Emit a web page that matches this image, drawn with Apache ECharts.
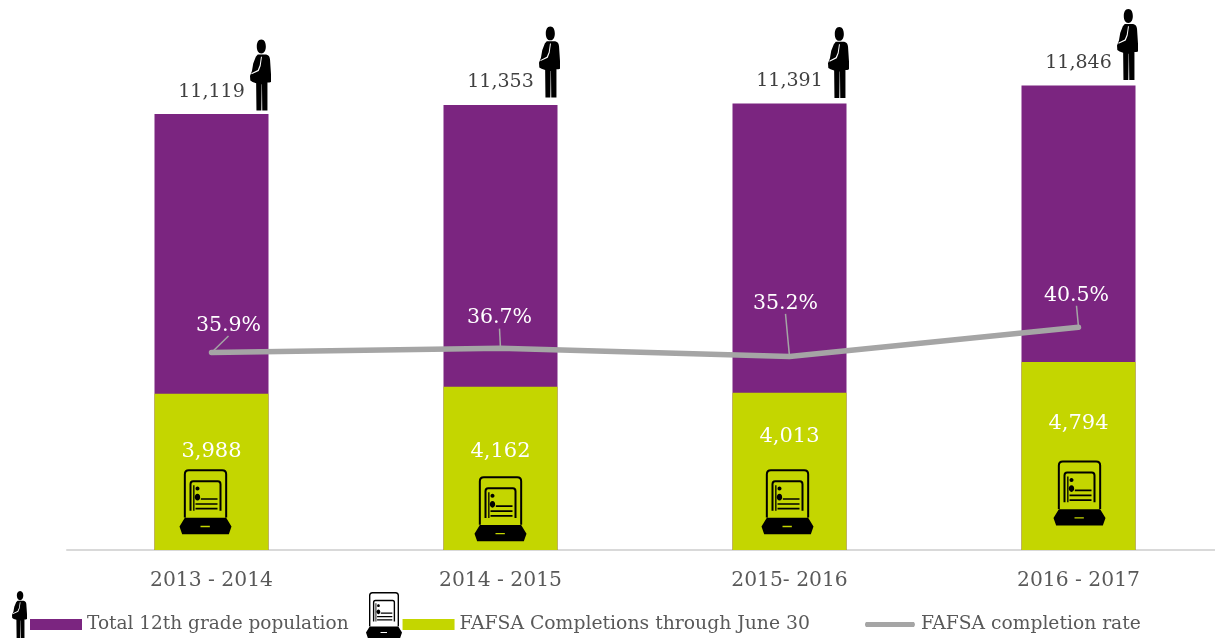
<!DOCTYPE html>
<html><head><meta charset="utf-8">
<style>html,body{margin:0;padding:0;background:#fff}#c{width:1215px;height:639px}</style>
<script src="https://cdn.jsdelivr.net/npm/echarts@6/dist/echarts.min.js"></script>
</head><body><div id="c"></div>
<script>
const categories = ['2013 - 2014','2014 - 2015','2015- 2016','2016 - 2017'];
const totalPopulation = [11119,11353,11391,11846];
const completions = [3988,4162,4013,4794];
const completionRate = [35.9,36.7,35.2,40.5];

const FONT = '"DejaVu Serif"';
const PERSON = 'M35 0C45 0 49 10 49 21C49 33 44 42 35 42C26 42 21 33 21 21C21 10 25 0 35 0Z M24 45L50 45C59 47 61 52 62 60L65 105L65 128L60 130L54 130L54 215L38 215L37 135L36 135L35 215L20 215L19 132L8 128L1 124L0 110L6 95L10 72L18 52Z M37 52L34 52L30 78L24 92L4 102L5 105L27 95L33 80Z';
const TABLET = 'M13 145L13 15Q13 0 28 0L128 0Q143 0 143 15L143 145L137 145L137 15Q137 6 128 6L28 6Q19 6 19 15L19 145Z M30 125L30 45Q30 33 41 33L115 33Q126 33 126 45L126 125L120 125L120 45Q120 39 115 39L41 39Q36 39 36 45L36 125Z M41 48L45 48L45 125L41 125Z M54 52C58 52 60 55 60 58C60 61 58 64 54 64C50 64 48 61 48 58C48 55 50 52 54 52Z M54 74C59 74 62 79 62 84C62 89 59 94 54 94C49 94 46 89 46 84C46 79 49 74 54 74Z M64 87L114 87L114 92L64 92Z M48 102L114 102L114 107L48 107Z M48 116L114 116L114 121L48 121Z M16 146L140 146L156 172L148 195L8 195L0 172Z M63 170L63 174L91 174L91 170Z';
const LINE_ICON = 'path://M0 0L0 0Z M2 3L50 3Q52 5.5 50 8L2 8Q0 5.5 2 3Z M52 11L52 11Z';

const personOffset = [[49,-39],[49,-43],[49,-41],[49,-41]];
const tabletOffset = [[-6,108],[0,122],[-2,109],[1,131]];
const greenLabelOffset = [[0,42],[0,49],[0,28],[0,46]];
const rateLabelLayout = [[17,-27],[-1,-30],[-4,-53],[-2,-32]];

echarts.graphic.registerShape('person', echarts.graphic.extendPath(PERSON, {}));
echarts.graphic.registerShape('tablet', echarts.graphic.extendPath(TABLET, {}));

const chart = echarts.init(document.getElementById('c'), null, {renderer:'canvas'});
const legendText = {color:'#595959',fontFamily:FONT};
chart.setOption({
  animation:false,
  textStyle:{fontFamily:FONT},
  grid:{left:67,top:0,width:1156,height:550,containLabel:false,outerBoundsMode:'none'},
  xAxis:{type:'category',data:categories,axisTick:{show:false},
    axisLine:{lineStyle:{color:'#D9D9D9',width:2}},
    axisLabel:{color:'#595959',fontSize:20.3,fontFamily:FONT,margin:21}},
  yAxis:[
    {type:'value',min:0,max:14030,show:false},
    {type:'value',min:0,max:100,show:false}
  ],
  legend:{left:30,top:615,itemGap:54,itemWidth:52,itemHeight:11,itemStyle:{borderWidth:0},padding:0,
    textStyle:{color:'#595959',fontSize:18.5,fontFamily:FONT},
    data:[{name:'Total 12th grade population',icon:'rect'},
      {name:'FAFSA Completions through June 30',icon:'rect',textStyle:{...legendText,fontSize:18.8}},
      {name:'FAFSA completion rate',icon:LINE_ICON,textStyle:{...legendText,fontSize:18.7}}]},
  series:[
    {name:'Total 12th grade population',type:'bar',data:totalPopulation,barWidth:114,barGap:'-100%',
      itemStyle:{color:'#7B2580'},
      label:{show:true,position:'top',distance:13,color:'#404040',fontSize:19,fontFamily:FONT,
        formatter:p=>p.value.toLocaleString('en-US')}},
    {name:'FAFSA Completions through June 30',type:'bar',barWidth:114,
      data:completions.map((v,i)=>({value:v,label:{offset:greenLabelOffset[i]}})),
      itemStyle:{color:'#C4D600'},
      label:{show:true,position:'insideTop',color:'#fff',fontSize:21,fontFamily:FONT,
        formatter:p=>p.value.toLocaleString('en-US')}},
    {name:'FAFSA completion rate',type:'line',yAxisIndex:1,data:completionRate,symbol:'circle',symbolSize:1,showSymbol:true,z:5,
      lineStyle:{color:'#A5A5A5',width:5.5,cap:'round',join:'round'},itemStyle:{color:'#A5A5A5'},
      label:{show:true,position:'inside',color:'#fff',fontSize:20.5,fontFamily:FONT,formatter:p=>p.value.toFixed(1)+'%'},
      labelLine:{show:true,lineStyle:{color:'#A5A5A5',width:1.5}},
      labelLayout:p=>({dx:rateLabelLayout[p.dataIndex][0],dy:rateLabelLayout[p.dataIndex][1]})},
    {name:'people',type:'scatter',data:totalPopulation.map((v,i)=>({value:v,symbolOffset:personOffset[i]})),
      symbol:'path://'+PERSON,symbolSize:[21,71],symbolKeepAspect:false,itemStyle:{color:'#000',opacity:1},z:6,silent:true},
    {name:'tablets',type:'scatter',data:completions.map((v,i)=>({value:v,symbolOffset:tabletOffset[i]})),
      symbol:'path://'+TABLET,symbolSize:[52,65],itemStyle:{color:'#000',opacity:1},z:6,silent:true}
  ],
  graphic:[
    {type:'person',x:12,y:591,scaleX:15/65,scaleY:47/215,style:{fill:'#000'}},
    {type:'tablet',x:366,y:592,scaleX:36/156,scaleY:46/195,style:{fill:'#000'}}
  ]
});
</script></body></html>
